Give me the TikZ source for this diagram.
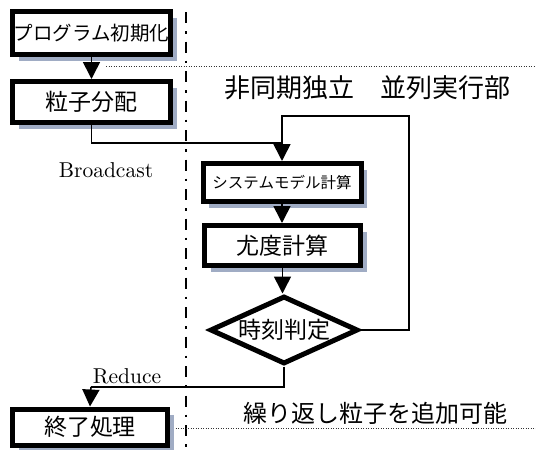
\documentclass[tikz,border=0pt]{standalone}
\usepackage{fontspec}
\newfontfamily\jp{Noto Sans CJK JP}
\newfontfamily\lmten{lmroman10-regular.otf}
\usetikzlibrary{arrows.meta,shadows,shapes.geometric}
\definecolor{shadowc}{RGB}{160,172,196}
\begin{document}
\begin{tikzpicture}[x=1pt,y=-1pt,
  box/.style={draw,line width=5pt,fill=white,inner sep=0pt,
    font=\jp\fontsize{23}{23}\selectfont,
    drop shadow={shadow xshift=6pt,shadow yshift=-6pt,fill=shadowc,opacity=1}},
  dia/.style={diamond,aspect=2.2,draw,line width=5pt,fill=white,inner sep=0pt,
    font=\jp\fontsize{23}{23}\selectfont},
  thinline/.style={line width=1.6pt},
  arr/.style={thinline,-{Triangle[width=17pt,length=17pt]}},
  dotline/.style={line width=0.8pt,dash pattern=on 1pt off 1.5pt,black!80},
  dashdot/.style={line width=2.2pt,dash pattern=on 11pt off 8pt on 2.5pt off 8pt},
  lab/.style={font=\lmten\fontsize{21.5}{22}\selectfont,inner sep=0pt},
  jplab/.style={font=\jp\fontsize{#1}{#1}\selectfont,inner sep=0pt}
]
\useasboundingbox (0,0) rectangle (536,450);

% separator lines
\coordinate (v1) at (186,12);
\coordinate (v2) at (186,450);
\draw[dashdot] (v1) -- (v2);

\coordinate (d1a) at (106,66);
\coordinate (d1b) at (536,66);
\draw[dotline] (d1a) -- (d1b);
\coordinate (d2a) at (173,428);
\coordinate (d2b) at (536,428);
\draw[dotline] (d2a) -- (d2b);

% nodes
\node[box,minimum width=158pt,minimum height=43pt,
  font=\jp\fontsize{19.5}{20}\selectfont] (b1) at (91.5,33) {プログラム初期化};
\node[box,minimum width=158pt,minimum height=41pt] (b2) at (91.5,102) {粒子分配};
\node[box,minimum width=158pt,minimum height=38pt,
  font=\jp\fontsize{15.5}{16}\selectfont] (b3) at (282,182.5) {システムモデル計算};
\node[box,minimum width=156pt,minimum height=40pt] (b4) at (282.5,245.5) {尤度計算};
\node[dia,minimum width=148pt,minimum height=68pt] (d) at (284,330) {時刻判定};
\node[box,minimum width=155pt,minimum height=36pt] (b5) at (90,427) {終了処理};

% texts
\node[lab] (bt) at (106,170) {Broadcast};
\node[lab] (rt) at (127,376) {Reduce};
\node[jplab=26] (t1) at (367,88) {非同期独立　並列実行部};
\node[jplab=24] (t2) at (375,413) {繰り返し粒子を追加可能};

% connectors
\draw[arr] (b1.south) -- (b2.north);
\coordinate (bc) at (282,143);
\draw[thinline] (b2.south) |- (bc);
\coordinate (lp) at (409,116);
\draw[thinline] (d.east) -| (lp) -| (bc);
\draw[arr] (bc) -- (b3.north);
\draw[arr] (b3.south) -- (b3.south |- b4.north);
\draw[arr] (b4.south) -- (b4.south |- d.north);
\coordinate (rd) at (91,387);
\draw[thinline] (d.south) |- (rd);
\draw[arr] (rd) -- (b5.north);
\end{tikzpicture}
\end{document}
